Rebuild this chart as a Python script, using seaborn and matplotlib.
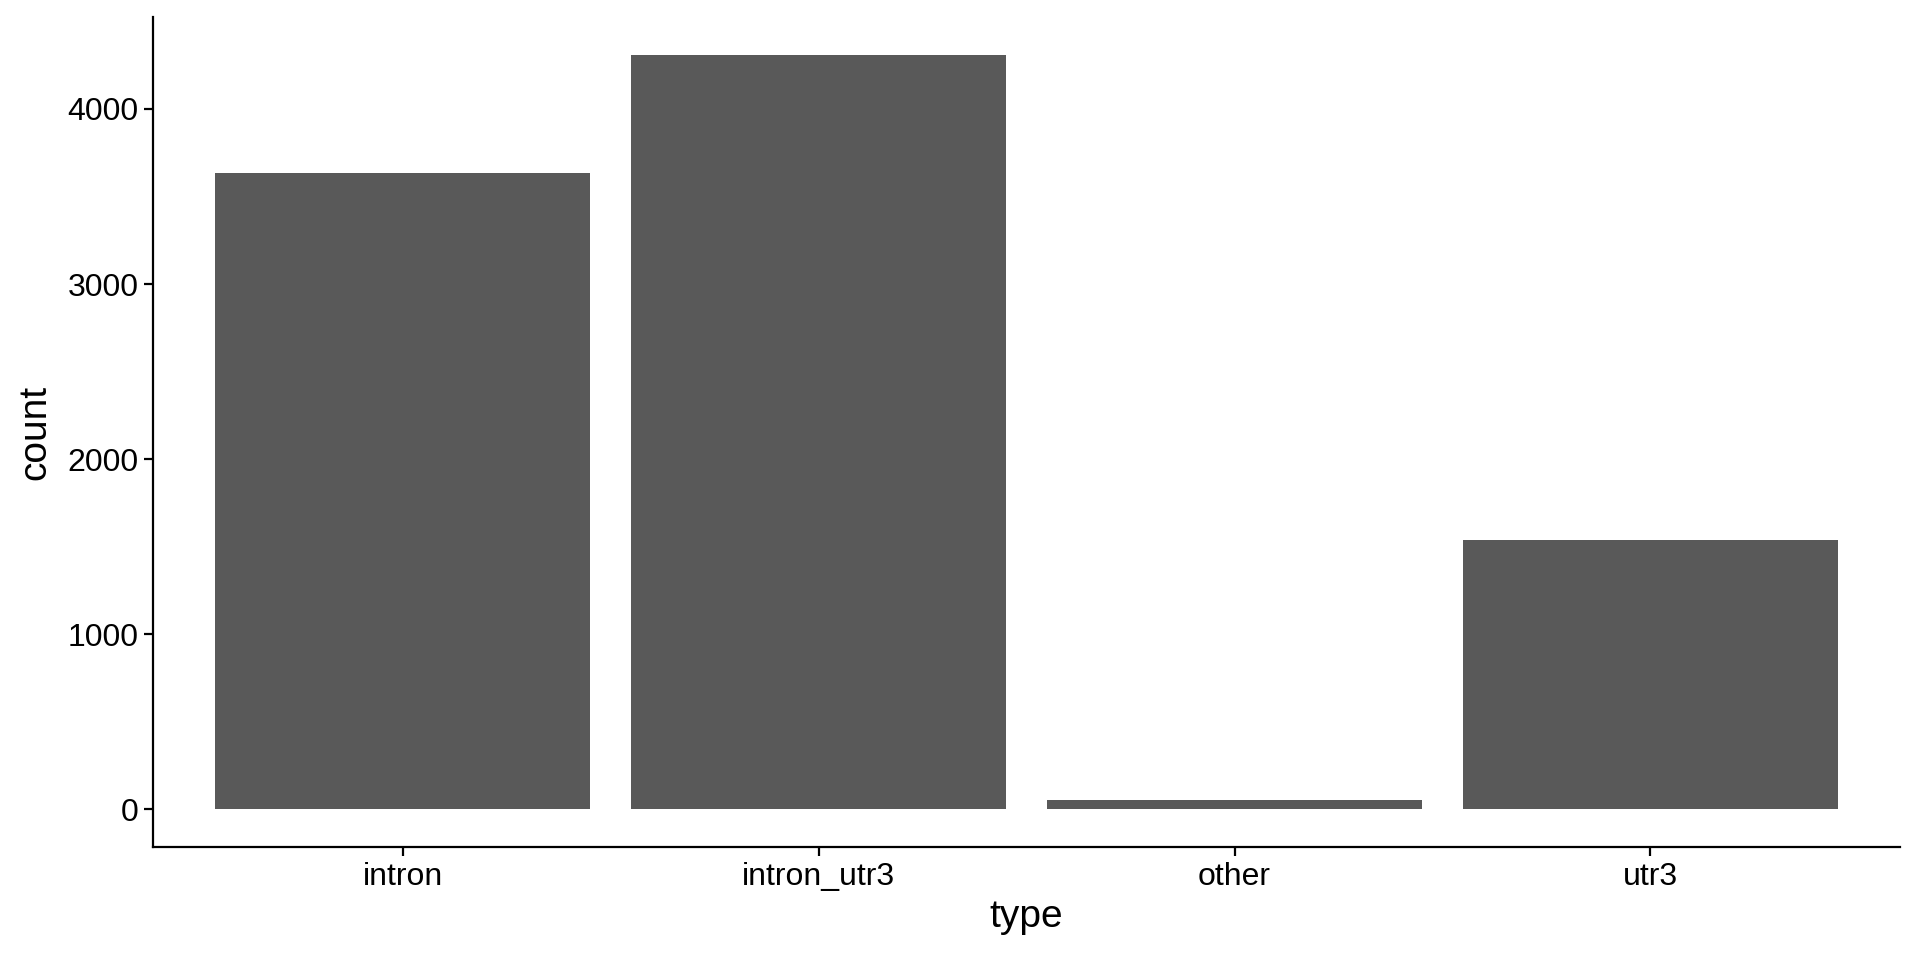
import matplotlib
matplotlib.use('Agg')
import matplotlib.pyplot as plt
import seaborn as sns
import pandas as pd

types = ['intron', 'intron_utr3', 'other', 'utr3']
counts = [3634, 4310, 55, 1540]
y_ticks = [0, 1000, 2000, 3000, 4000]

sns.set_style('ticks')
plt.rcParams['font.family'] = ['Liberation Sans', 'DejaVu Sans']

df = pd.DataFrame({'type': types, 'count': counts})

fig = plt.figure(figsize=(19.2, 9.6), dpi=100)
ax = fig.add_axes([0.0797, 0.1177, 0.9099, 0.8646])
sns.barplot(data=df, x='type', y='count', color='#595959', saturation=1,
            width=0.9, edgecolor='none', linewidth=0, ax=ax)

ax.set_xlim(-0.6, len(types) - 0.4)
top = max(counts)
ax.set_ylim(-0.05 * top, top * 1.05)
ax.set_yticks(y_ticks)
ax.set_yticklabels([str(v) for v in y_ticks])

sns.despine(ax=ax)
for side in ['left', 'bottom']:
    ax.spines[side].set_linewidth(1.6)
    ax.spines[side].set_color('black')
ax.tick_params(axis='both', length=6.5, width=1.6, color='black',
               labelsize=23, labelcolor='black', pad=4)
ax.set_xlabel('type', fontsize=28, color='black', labelpad=5)
ax.set_ylabel('count', fontsize=28, color='black', labelpad=10)

fig.savefig('out.png', dpi=100)
